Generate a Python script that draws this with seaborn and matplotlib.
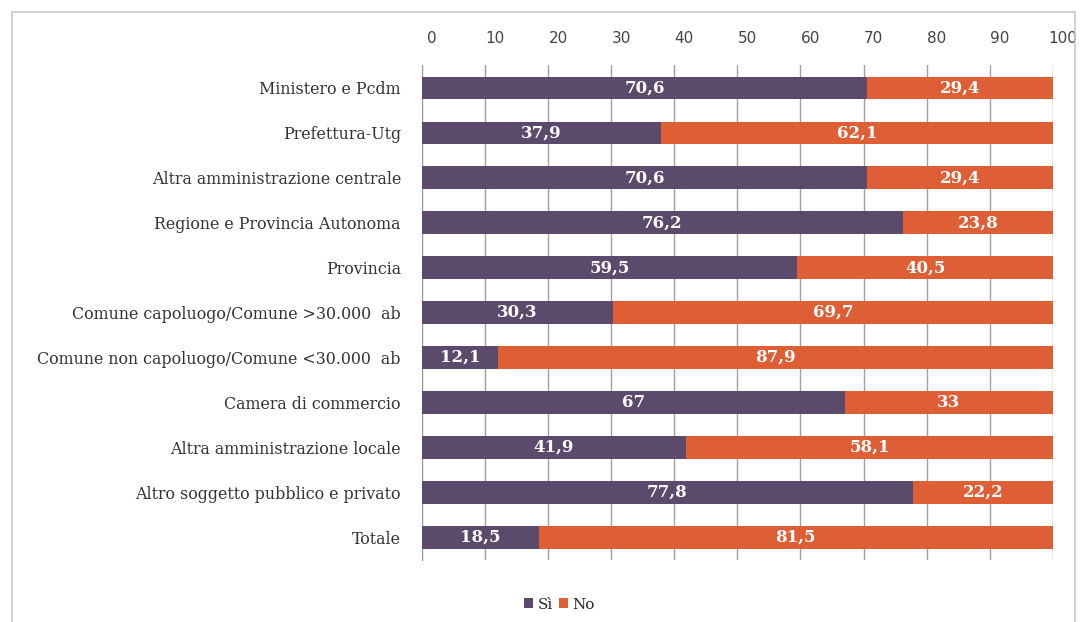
import matplotlib
matplotlib.use("Agg")
import matplotlib.pyplot as plt
import matplotlib.transforms as mtransforms
import seaborn as sns
import pandas as pd
from matplotlib.patches import Rectangle

# data
categorie = ["Ministero e Pcdm", "Prefettura-Utg", "Altra amministrazione centrale",
             "Regione e Provincia Autonoma", "Provincia",
             "Comune capoluogo/Comune >30.000  ab",
             "Comune non capoluogo/Comune <30.000  ab",
             "Camera di commercio", "Altra amministrazione locale",
             "Altro soggetto pubblico e privato", "Totale"]
si = [70.6, 37.9, 70.6, 76.2, 59.5, 30.3, 12.1, 67, 41.9, 77.8, 18.5]
no = [29.4, 62.1, 29.4, 23.8, 40.5, 69.7, 87.9, 33, 58.1, 22.2, 81.5]

col_si = "#5b4a6b"
col_no = "#de5f35"

df = pd.DataFrame({"cat": categorie, "si": si, "no": no})
df["tot"] = df["si"] + df["no"]

sns.set_style("white")
plt.rcParams["font.family"] = ["DejaVu Serif"]

fig = plt.figure(figsize=(10.9, 6.22), dpi=100)
ax = fig.add_axes([0.387, 0.10, 0.579, 0.795])

# outer frame of the chart
fig.patches.append(Rectangle((0.011, -0.01), 0.975, 0.99, transform=fig.transFigure,
                             fill=False, edgecolor="#c8c8c8", lw=1.2))

sns.barplot(data=df, y="cat", x="tot", color=col_no, orient="h", width=0.5,
            saturation=1, linewidth=0, ax=ax, label="No", zorder=3)
sns.barplot(data=df, y="cat", x="si", color=col_si, orient="h", width=0.5,
            saturation=1, linewidth=0, ax=ax, label="Sì", zorder=4)
handles, labels = ax.get_legend_handles_labels()
if ax.legend_ is not None:
    ax.legend_.remove()

def fmt(v):
    return f"{v:g}".replace(".", ",")

for i, (s, n) in enumerate(zip(si, no)):
    ax.text(s / 2, i, fmt(s), ha="center", va="center", color="white",
            fontsize=12, fontweight="bold", zorder=5)
    ax.text(s + n / 2, i, fmt(n), ha="center", va="center", color="white",
            fontsize=12, fontweight="bold", zorder=5)

ax.set_xlim(0, 100)
ax.set_xticks(range(0, 101, 10))
ax.xaxis.tick_top()
ax.tick_params(axis="x", length=0, pad=14, labelsize=11, labelcolor="#444444")
shift = mtransforms.ScaledTranslation(10 / 100, 0, fig.dpi_scale_trans)
for lab in ax.get_xticklabels():
    lab.set_family("DejaVu Sans")
    lab.set_transform(lab.get_transform() + shift)
ax.tick_params(axis="y", length=0, pad=15, labelsize=11.4, labelcolor="#333333")
ax.set_xlabel("")
ax.set_ylabel("")
ax.grid(axis="x", color="#a0a0a0", lw=1, zorder=0)
for side in ["top", "right", "bottom"]:
    ax.spines[side].set_visible(False)
ax.spines["left"].set_color("#9a9a9a")

order = [labels.index("Sì"), labels.index("No")]
fig.legend([handles[k] for k in order], [labels[k] for k in order],
           loc="center", bbox_to_anchor=(0.513, 0.028), ncol=2, frameon=False,
           fontsize=11, handlelength=0.6, handleheight=0.6, handletextpad=0.3,
           columnspacing=0.4)

fig.savefig("out.png", dpi=100)
